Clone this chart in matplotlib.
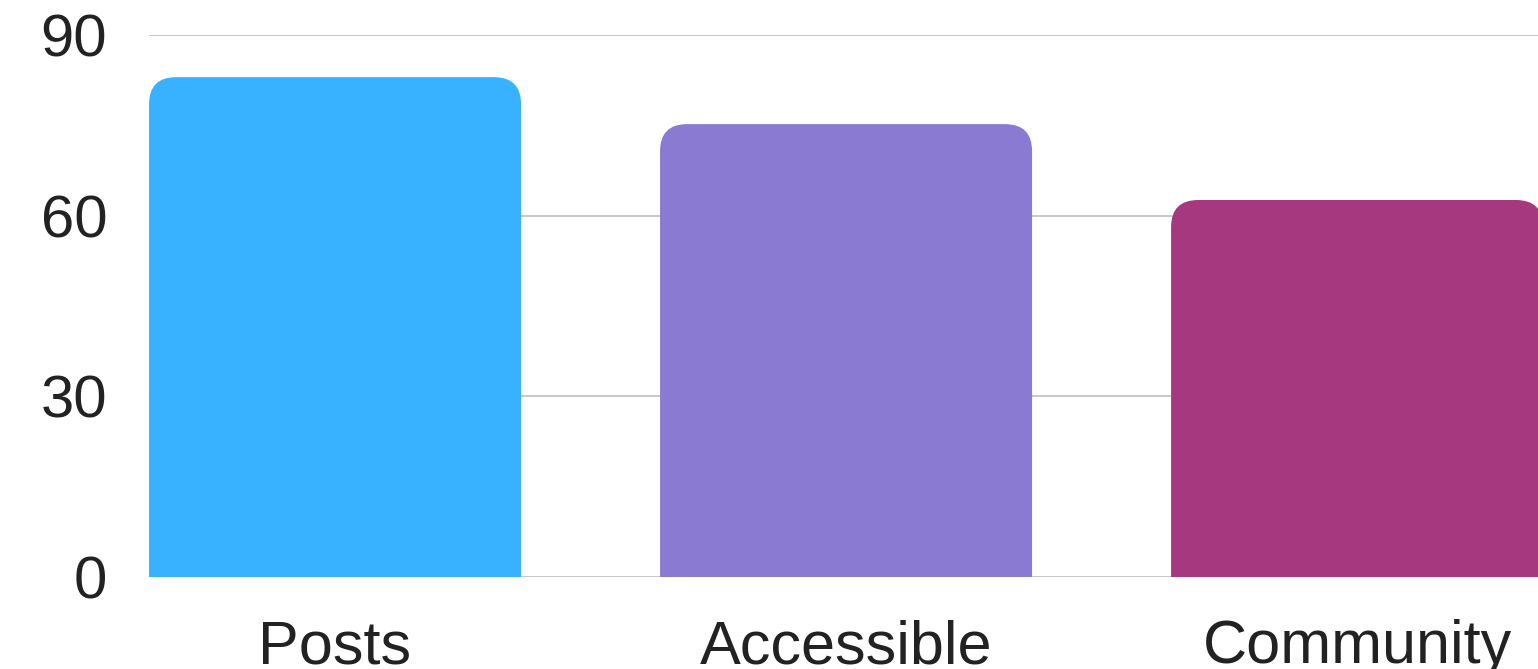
import matplotlib
matplotlib.use("Agg")
import matplotlib.pyplot as plt
from matplotlib.patches import FancyBboxPatch

categories = ["Posts", "Accessible", "Community"]
values = [83, 75.2, 62.6]
colors = ["#38B1FF", "#8A7AD1", "#A5387F"]
yticks = [0, 30, 60, 90]

plt.rcParams["font.family"] = ["Liberation Sans", "DejaVu Sans"]

fig = plt.figure(figsize=(15.38, 6.69), dpi=100)
ax = fig.add_axes([0.0969, 0.1375, 0.9031, 0.8102])

bar_w = 0.728
for i, (v, c) in enumerate(zip(categories, colors)):
    val = values[i]
    # extend below zero so the bottom corners get clipped square
    box = FancyBboxPatch((i - bar_w / 2, -10), bar_w, val + 10,
                         boxstyle="round,pad=0,rounding_size=0.053",
                         mutation_aspect=85, facecolor=c, edgecolor="none",
                         zorder=2)
    ax.add_patch(box)

ax.set_xlim(-bar_w / 2, 2.354)
ax.set_ylim(0, 90)
ax.set_yticks(yticks)
ax.set_xticks(range(len(categories)))
ax.set_xticklabels(categories)

for y in yticks:
    ax.axhline(y, color="#C8C8C8", lw=1.4, zorder=1)

for s in ax.spines.values():
    s.set_visible(False)
ax.tick_params(axis="both", length=0, labelsize=44, colors="#222222")
ax.tick_params(axis="y", labelsize=43, pad=30)
ax.tick_params(axis="x", pad=30.5)

fig.savefig("out.png", dpi=100)
